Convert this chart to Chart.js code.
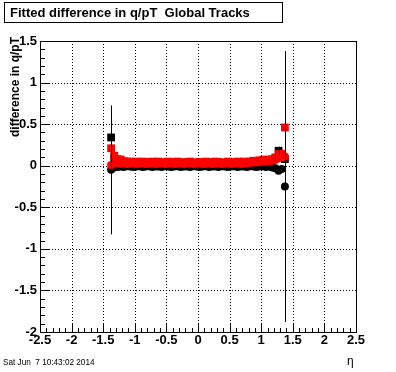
<!DOCTYPE html>
<html>
<head>
<meta charset="utf-8">
<script src="https://cdn.jsdelivr.net/npm/chart.js@4.4.1/dist/chart.umd.min.js"></script>
<style>
  html, body { margin: 0; padding: 0; background: #fff; }
  #wrap { width: 396px; height: 372px; position: relative; }
</style>
</head>
<body>
<div id="wrap"><canvas id="c"></canvas></div>
<script>
// eta bin centres
const ETA = [
  -1.375, -1.325, -1.275, -1.225, -1.175, -1.125, -1.075, -1.025, -0.975, -0.925,
  -0.875, -0.825, -0.775, -0.725, -0.675, -0.625, -0.575, -0.525, -0.475, -0.425,
  -0.375, -0.325, -0.275, -0.225, -0.175, -0.125, -0.075, -0.025,  0.025,  0.075,
   0.125,  0.175,  0.225,  0.275,  0.325,  0.375,  0.425,  0.475,  0.525,  0.575,
   0.625,  0.675,  0.725,  0.775,  0.825,  0.875,  0.925,  0.975,  1.025,  1.075,
   1.125,  1.175,  1.225,  1.275,  1.325,  1.375
];

const BLACK_SQ = [
  0.34, 0.10, 0.07, 0.05, 0.04, 0.04, 0.035, 0.04, 0.035, 0.03,
  0.035, 0.03, 0.04, 0.035, 0.03, 0.035, 0.04, 0.03, 0.035, 0.04,
  0.03, 0.035, 0.04, 0.03, 0.035, 0.04, 0.03, 0.035, 0.04, 0.03,
  0.035, 0.04, 0.03, 0.035, 0.04, 0.03, 0.035, 0.04, 0.03, 0.035,
  0.04, 0.035, 0.04, 0.045, 0.04, 0.05, 0.045, 0.05, 0.055, 0.06,
  0.06, 0.07, 0.09, 0.18, 0.12, 0.08
];
const BLACK_SQ_ERR = [
  0, 0, 0, 0, 0, 0, 0, 0, 0, 0,
  0, 0, 0, 0, 0, 0, 0, 0, 0, 0,
  0, 0, 0, 0, 0, 0, 0, 0, 0, 0,
  0, 0, 0, 0, 0, 0, 0, 0, 0, 0,
  0, 0, 0, 0, 0, 0, 0, 0, 0, 0,
  0, 0, 0.03, 0.05, 0, 0
];

const BLACK_CIRC = [
  -0.05, -0.02, -0.015, -0.01, -0.015, -0.005, -0.01, -0.015, -0.01, -0.005,
  -0.015, -0.01, -0.005, -0.015, -0.01, -0.01, -0.015, -0.005, -0.01, -0.015,
  -0.01, -0.005, -0.015, -0.01, -0.01, -0.015, -0.005, -0.01, -0.015, -0.01,
  -0.005, -0.015, -0.01, -0.01, -0.015, -0.005, -0.01, -0.015, -0.01, -0.005,
  -0.015, -0.01, -0.01, -0.015, -0.005, -0.01, -0.015, -0.01, -0.005, -0.015,
  -0.01, -0.02, -0.03, -0.06, -0.04, -0.25
];
const BLACK_CIRC_ERR = [
  0.775, 0, 0, 0, 0, 0, 0, 0, 0, 0,
  0, 0, 0, 0, 0, 0, 0, 0, 0, 0,
  0, 0, 0, 0, 0, 0, 0, 0, 0, 0,
  0, 0, 0, 0, 0, 0, 0, 0, 0, 0,
  0, 0, 0, 0, 0, 0, 0, 0, 0, 0,
  0, 0, 0, 0, 0, 1.63
];

const RED_SQ = [
  0.21, 0.12, 0.08, 0.075, 0.055, 0.05, 0.05, 0.045, 0.05, 0.04,
  0.05, 0.03, 0.045, 0.05, 0.035, 0.05, 0.04, 0.03, 0.05, 0.045,
  0.035, 0.05, 0.04, 0.03, 0.045, 0.05, 0.035, 0.04, 0.045, 0.03,
  0.05, 0.04, 0.035, 0.05, 0.045, 0.03, 0.04, 0.05, 0.035, 0.045,
  0.05, 0.04, 0.05, 0.045, 0.05, 0.06, 0.055, 0.065, 0.07, 0.075,
  0.07, 0.08, 0.10, 0.14, 0.145, 0.46
];

const RED_CIRC = [
  0.01, 0.03, 0.03, 0.025, 0.03, 0.02, 0.025, 0.03, 0.02, 0.025,
  0.03, 0.02, 0.025, 0.03, 0.02, 0.025, 0.03, 0.02, 0.025, 0.03,
  0.02, 0.025, 0.03, 0.02, 0.025, 0.03, 0.02, 0.025, 0.03, 0.02,
  0.025, 0.03, 0.02, 0.025, 0.03, 0.02, 0.025, 0.03, 0.02, 0.025,
  0.03, 0.02, 0.025, 0.03, 0.035, 0.04, 0.04, 0.045, 0.05, 0.05,
  0.055, 0.06, 0.07, 0.09, 0.10, 0.11
];

const X_TICKS = [-2.5, -2, -1.5, -1, -0.5, 0, 0.5, 1, 1.5, 2, 2.5];
const Y_TICKS = [-2, -1.5, -1, -0.5, 0, 0.5, 1, 1.5];

const TITLE  = 'Fitted difference in q/pT  Global Tracks';
const YTITLE = 'difference in q/pT';
const XTITLE = '\u03B7';
const STAMP  = 'Sat Jun  7 10:43:02 2014';

const FONT = '"Liberation Sans", Arial, Helvetica, sans-serif';

const pts = (ys) => ETA.map((x, i) => ({ x, y: ys[i] }));

// ROOT-like frame: dotted grid, inward ticks, box, texts
const rootFrame = {
  id: 'rootFrame',
  beforeDatasetsDraw(chart) {
    const { ctx, chartArea: a, scales: { x, y } } = chart;
    ctx.save();
    ctx.strokeStyle = '#000';
    ctx.lineWidth = 1;
    ctx.setLineDash([1, 2]);
    ctx.beginPath();
    X_TICKS.forEach(v => {
      const px = Math.round(x.getPixelForValue(v)) + 0.5;
      ctx.moveTo(px, a.top); ctx.lineTo(px, a.bottom);
    });
    Y_TICKS.forEach(v => {
      const py = Math.round(y.getPixelForValue(v)) + 0.5;
      ctx.moveTo(a.left, py); ctx.lineTo(a.right, py);
    });
    ctx.stroke();
    ctx.restore();
  },
  afterDatasetsDraw(chart) {
    const { ctx, chartArea: a, scales: { x, y } } = chart;
    ctx.save();
    ctx.strokeStyle = '#000';
    ctx.lineWidth = 1;

    // error bars
    ctx.beginPath();
    chart.data.datasets.forEach(ds => {
      if (!ds.err) return;
      ds.data.forEach((p, i) => {
        const e = ds.err[i];
        if (!e) return;
        const px = Math.round(x.getPixelForValue(p.x)) + 0.5;
        ctx.moveTo(px, y.getPixelForValue(p.y + e));
        ctx.lineTo(px, y.getPixelForValue(p.y - e));
      });
    });
    ctx.stroke();

    // frame
    const l = Math.round(a.left) + 0.5, r = Math.round(a.right) + 0.5;
    const t = Math.round(a.top) + 0.5, b = Math.round(a.bottom) + 0.5;
    ctx.strokeRect(l, t, r - l, b - t);

    // inward ticks, minor every 0.1
    ctx.beginPath();
    for (let i = -25; i <= 25; i++) {
      const px = Math.round(x.getPixelForValue(i / 10)) + 0.5;
      const len = i % 5 === 0 ? 9 : 4.5;
      ctx.moveTo(px, b); ctx.lineTo(px, b - len);
    }
    for (let i = -20; i <= 15; i++) {
      const py = Math.round(y.getPixelForValue(i / 10)) + 0.5;
      const len = i % 5 === 0 ? 9 : 4.5;
      ctx.moveTo(l, py); ctx.lineTo(l + len, py);
    }
    ctx.stroke();

    // title box
    ctx.fillStyle = '#fff';
    ctx.fillRect(4.5, 2.5, 278, 20);
    ctx.strokeRect(4.5, 2.5, 278, 20);
    ctx.fillStyle = '#000';
    ctx.textBaseline = 'alphabetic';
    ctx.textAlign = 'left';
    ctx.font = 'bold 13px ' + FONT;
    ctx.fillText(TITLE, 10, 17);

    // axis titles
    ctx.font = 'bold 12px ' + FONT;
    ctx.save();
    ctx.translate(16, 37);
    ctx.rotate(-Math.PI / 2);
    ctx.textAlign = 'right';
    ctx.textBaseline = 'middle';
    ctx.fillText(YTITLE, 0, 0);
    ctx.restore();

    ctx.font = '12px ' + FONT;
    ctx.textAlign = 'left';
    ctx.fillText(XTITLE, 347, 365);

    ctx.font = '8.2px ' + FONT;
    ctx.fillText(STAMP, 3, 365);
    ctx.restore();
  }
};

const tickFont = { family: FONT, size: 13, weight: 'bold' };
const fmt = v => String(Math.round(v * 10) / 10);

new Chart(document.getElementById('c'), {
  type: 'scatter',
  data: {
    datasets: [
      { label: 'black squares', data: pts(BLACK_SQ), err: BLACK_SQ_ERR, order: 4,
        pointStyle: 'rect', pointRadius: 5.5, pointBorderWidth: 0,
        pointBackgroundColor: '#000', borderColor: '#000' },
      { label: 'black circles', data: pts(BLACK_CIRC), err: BLACK_CIRC_ERR, order: 3,
        pointStyle: 'circle', pointRadius: 4, pointBorderWidth: 0,
        pointBackgroundColor: '#000', borderColor: '#000' },
      { label: 'red squares', data: pts(RED_SQ), order: 2,
        pointStyle: 'rect', pointRadius: 5.5, pointBorderWidth: 0,
        pointBackgroundColor: '#ff0000', borderColor: '#ff0000' },
      { label: 'red circles', data: pts(RED_CIRC), order: 1,
        pointStyle: 'circle', pointRadius: 4, pointBorderWidth: 0,
        pointBackgroundColor: '#ff0000', borderColor: '#ff0000' },
    ],
  },
  options: {
    responsive: true,
    maintainAspectRatio: false,
    animation: false,
    devicePixelRatio: 1,
    layout: { padding: { top: 41, right: 40, left: 0, bottom: 0 } },
    plugins: { legend: { display: false }, tooltip: { enabled: false } },
    scales: {
      x: {
        type: 'linear', min: -2.5, max: 2.5,
        afterFit: s => { s.height = 40; },
        grid: { display: false, drawTicks: false },
        border: { display: false },
        ticks: { stepSize: 0.5, autoSkip: false, maxRotation: 0, padding: 1,
                 color: '#000', font: tickFont, callback: fmt },
      },
      y: {
        type: 'linear', min: -2, max: 1.5,
        afterFit: s => { s.width = 40; },
        grid: { display: false, drawTicks: false },
        border: { display: false },
        ticks: { stepSize: 0.5, autoSkip: false, padding: 3,
                 color: '#000', font: tickFont, callback: fmt },
      },
    },
  },
  plugins: [rootFrame],
});
</script>
</body>
</html>
